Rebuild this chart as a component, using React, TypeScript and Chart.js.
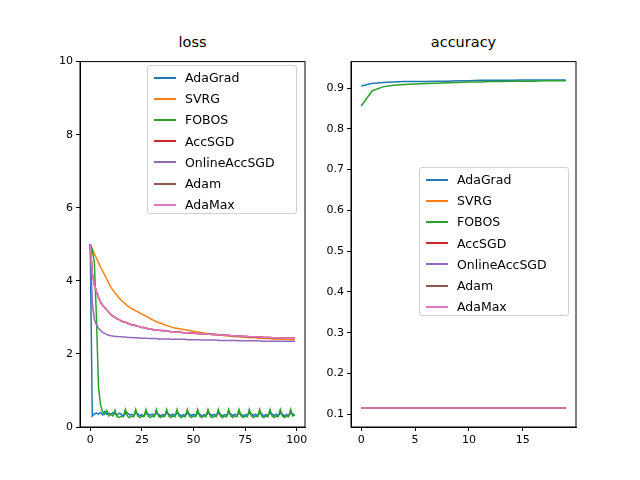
import { useEffect, useRef } from "react";
import { Chart, registerables } from "chart.js";

Chart.register(...registerables);

const names = ["AdaGrad", "SVRG", "FOBOS", "AccSGD", "OnlineAccSGD", "Adam", "AdaMax"];
const colors = ["#1f77b4", "#ff7f0e", "#2ca02c", "#d62728", "#9467bd", "#8c564b", "#e377c2"];

// loss, 100 epochs
const lossAdaGrad = [
  5.0, 0.3, 0.36, 0.38, 0.35, 0.4, 0.33, 0.42, 0.35, 0.38, 0.34, 0.4, 0.36, 0.32, 0.38, 0.35, 0.3, 0.36, 0.39, 0.33,
  0.35, 0.32, 0.38, 0.36, 0.31, 0.34, 0.3, 0.37, 0.36, 0.32, 0.35, 0.31, 0.38, 0.35, 0.3, 0.34, 0.32, 0.38, 0.36, 0.31,
  0.35, 0.31, 0.38, 0.35, 0.3, 0.34, 0.32, 0.38, 0.36, 0.31, 0.35, 0.31, 0.38, 0.35, 0.3, 0.34, 0.32, 0.38, 0.36, 0.31,
  0.35, 0.31, 0.38, 0.35, 0.3, 0.34, 0.32, 0.38, 0.36, 0.31, 0.35, 0.31, 0.38, 0.35, 0.3, 0.34, 0.32, 0.38, 0.36, 0.31,
  0.35, 0.31, 0.38, 0.35, 0.3, 0.34, 0.32, 0.38, 0.36, 0.31, 0.35, 0.31, 0.38, 0.35, 0.3, 0.34, 0.32, 0.38, 0.36, 0.31,
];
const lossSVRG = [
  5.0, 4.88, 4.75, 4.62, 4.5, 4.38, 4.27, 4.16, 4.05, 3.94, 3.82, 3.74, 3.67, 3.6, 3.53, 3.47, 3.42, 3.37, 3.32, 3.28,
  3.24, 3.21, 3.18, 3.15, 3.12, 3.09, 3.06, 3.03, 3.0, 2.97, 2.94, 2.91, 2.88, 2.86, 2.84, 2.82, 2.8, 2.78, 2.76, 2.74,
  2.72, 2.71, 2.7, 2.69, 2.68, 2.67, 2.66, 2.65, 2.64, 2.63, 2.62, 2.61, 2.6, 2.59, 2.58, 2.57, 2.56, 2.56, 2.55, 2.54,
  2.53, 2.53, 2.52, 2.52, 2.51, 2.5, 2.5, 2.49, 2.49, 2.48, 2.48, 2.47, 2.47, 2.46, 2.46, 2.46, 2.45, 2.45, 2.44, 2.44,
  2.44, 2.43, 2.43, 2.43, 2.42, 2.42, 2.42, 2.42, 2.41, 2.41, 2.41, 2.41, 2.41, 2.4, 2.4, 2.4, 2.4, 2.4, 2.39, 2.39,
];
const lossFOBOS = [
  5.0, 4.85, 4.5, 3.0, 1.1, 0.6, 0.42, 0.35, 0.45, 0.3, 0.35, 0.3, 0.46, 0.28, 0.26, 0.3, 0.28, 0.48, 0.3, 0.26,
  0.3, 0.28, 0.48, 0.3, 0.26, 0.3, 0.28, 0.48, 0.3, 0.26, 0.3, 0.28, 0.48, 0.3, 0.26, 0.3, 0.28, 0.48, 0.3, 0.26,
  0.3, 0.28, 0.48, 0.3, 0.26, 0.3, 0.28, 0.48, 0.3, 0.26, 0.3, 0.28, 0.48, 0.3, 0.26, 0.3, 0.28, 0.48, 0.3, 0.26,
  0.3, 0.28, 0.48, 0.3, 0.26, 0.3, 0.28, 0.48, 0.3, 0.26, 0.3, 0.28, 0.48, 0.3, 0.26, 0.3, 0.28, 0.48, 0.3, 0.26,
  0.3, 0.28, 0.48, 0.3, 0.26, 0.3, 0.28, 0.48, 0.3, 0.26, 0.3, 0.28, 0.48, 0.3, 0.26, 0.3, 0.28, 0.48, 0.3, 0.33,
];
const lossMiddle = [
  5.0, 4.2, 3.9, 3.7, 3.55, 3.42, 3.33, 3.27, 3.2, 3.14, 3.08, 3.03, 3.0, 2.96, 2.94, 2.9, 2.88, 2.87, 2.84, 2.82,
  2.8, 2.79, 2.77, 2.76, 2.74, 2.72, 2.72, 2.7, 2.69, 2.68, 2.67, 2.66, 2.66, 2.65, 2.64, 2.64, 2.63, 2.62, 2.62, 2.61,
  2.61, 2.6, 2.6, 2.59, 2.59, 2.58, 2.58, 2.58, 2.57, 2.57, 2.57, 2.56, 2.56, 2.55, 2.55, 2.55, 2.54, 2.54, 2.54, 2.53,
  2.53, 2.53, 2.52, 2.52, 2.52, 2.51, 2.51, 2.51, 2.5, 2.5, 2.5, 2.49, 2.49, 2.49, 2.48, 2.48, 2.48, 2.47, 2.47, 2.47,
  2.46, 2.46, 2.46, 2.46, 2.45, 2.45, 2.45, 2.45, 2.44, 2.44, 2.44, 2.44, 2.44, 2.43, 2.43, 2.43, 2.43, 2.43, 2.43, 2.43,
];
const lossOnlineAccSGD = [
  5.0, 3.4, 2.95, 2.8, 2.7, 2.64, 2.59, 2.56, 2.53, 2.51, 2.5, 2.49, 2.48, 2.48, 2.47, 2.47, 2.46, 2.46, 2.45, 2.45,
  2.45, 2.44, 2.44, 2.44, 2.43, 2.43, 2.43, 2.43, 2.42, 2.42, 2.42, 2.42, 2.42, 2.41, 2.41, 2.41, 2.41, 2.41, 2.41, 2.4,
  2.4, 2.4, 2.4, 2.4, 2.4, 2.4, 2.4, 2.39, 2.39, 2.39, 2.39, 2.39, 2.39, 2.39, 2.38, 2.38, 2.38, 2.38, 2.38, 2.38,
  2.38, 2.38, 2.37, 2.37, 2.37, 2.37, 2.37, 2.37, 2.37, 2.37, 2.37, 2.37, 2.36, 2.36, 2.36, 2.36, 2.36, 2.36, 2.36, 2.36,
  2.36, 2.36, 2.36, 2.35, 2.35, 2.35, 2.35, 2.35, 2.35, 2.35, 2.35, 2.35, 2.35, 2.35, 2.35, 2.35, 2.35, 2.35, 2.35, 2.35,
];

// accuracy, 20 epochs
const accAdaGrad = [0.905, 0.911, 0.914, 0.915, 0.916, 0.916, 0.916, 0.917, 0.917, 0.918, 0.918, 0.919, 0.919, 0.919, 0.919, 0.92, 0.92, 0.92, 0.92, 0.92];
const accFOBOS = [0.856, 0.893, 0.903, 0.907, 0.909, 0.91, 0.911, 0.912, 0.913, 0.914, 0.915, 0.915, 0.916, 0.916, 0.917, 0.917, 0.917, 0.918, 0.918, 0.918];
const accFlat = [0.115, 0.115, 0.115, 0.115, 0.115, 0.115, 0.115, 0.115, 0.115, 0.115, 0.115, 0.115, 0.115, 0.115, 0.115, 0.115, 0.115, 0.115, 0.115, 0.115];

const lossSeries = [lossAdaGrad, lossSVRG, lossFOBOS, lossMiddle, lossOnlineAccSGD, lossMiddle, lossMiddle];
const accSeries = [accAdaGrad, accFlat, accFOBOS, accFlat, accFlat, accFlat, accFlat];

const lossXTicks = [0, 25, 50, 75, 100];
const lossYTicks = [0, 2, 4, 6, 8, 10];
const accXTicks = [0, 5, 10, 15];
const accYTicks = [0.1, 0.2, 0.3, 0.4, 0.5, 0.6, 0.7, 0.8, 0.9];

const FONT = "'DejaVu Sans', sans-serif";

const framePlugin = {
  id: "frame",
  afterDraw(chart: any) {
    const { ctx, chartArea: a } = chart;
    ctx.save();
    ctx.strokeStyle = "#000";
    ctx.lineWidth = 1;
    ctx.strokeRect(a.left, a.top, a.right - a.left, a.bottom - a.top);
    ctx.restore();
  },
};

function Panel(props: {
  series: number[][];
  xMin: number; xMax: number; xTicks: number[];
  yMin: number; yMax: number; yTicks: number[]; yDigits: number;
  yWidth: number; left: number; title: string;
  legendLeft: number; legendTop: number;
}) {
  const ref = useRef<HTMLCanvasElement | null>(null);
  useEffect(() => {
    if (!ref.current) return;
    const axisCommon = {
      grid: { drawOnChartArea: false, tickLength: 4, color: "#000" },
      border: { color: "#000" },
      ticks: { color: "#000", font: { family: FONT, size: 11 }, padding: 3, autoSkip: false },
    };
    const chart = new Chart(ref.current, {
      type: "line",
      data: {
        datasets: props.series.map((s, i) => ({
          label: names[i],
          data: s.map((v, j) => ({ x: j, y: v })),
          borderColor: colors[i],
          borderWidth: 1.5,
          pointRadius: 0,
          fill: false,
          order: names.length - i,
        })),
      },
      options: {
        animation: false,
        responsive: false,
        layout: { padding: { top: 5, right: 14, bottom: 8, left: 0 } },
        plugins: { legend: { display: false }, tooltip: { enabled: false } },
        scales: {
          x: {
            type: "linear", min: props.xMin, max: props.xMax,
            ...axisCommon,
            afterBuildTicks: (s: any) => { s.ticks = props.xTicks.map((v) => ({ value: v })); },
            ticks: { ...axisCommon.ticks, callback: (v: any) => String(v) },
            afterFit: (s: any) => { s.height = 25; },
          },
          y: {
            min: props.yMin, max: props.yMax,
            ...axisCommon,
            afterBuildTicks: (s: any) => { s.ticks = props.yTicks.map((v) => ({ value: v })); },
            ticks: { ...axisCommon.ticks, callback: (v: any) => Number(v).toFixed(props.yDigits) },
            afterFit: (s: any) => { s.width = props.yWidth; },
          },
        },
      } as any,
      plugins: [framePlugin],
    });
    return () => chart.destroy();
  }, []);
  return (
    <>
      <div style={{ position: "absolute", left: props.left + props.yWidth, width: 225, top: 34, textAlign: "center", fontSize: 14.5, fontFamily: FONT }}>
        {props.title}
      </div>
      <canvas ref={ref} width={props.yWidth + 225 + 14} height={408} style={{ position: "absolute", left: props.left, top: 52 }} />
      <div style={{
        position: "absolute", left: props.legendLeft, top: props.legendTop, width: 150, height: 149,
        boxSizing: "border-box", border: "1px solid #d0d0d0", borderRadius: 3, background: "rgba(255,255,255,0.8)",
        fontFamily: FONT, fontSize: 12.5, padding: "1px 0 0 6px",
      }}>
        {names.map((n, i) => (
          <div key={n} style={{ display: "flex", alignItems: "center", height: 21.2 }}>
            <span style={{ display: "inline-block", width: 22, height: 2, background: colors[i], marginRight: 9 }} />
            {n}
          </div>
        ))}
      </div>
    </>
  );
}

export default function App() {
  return (
    <div style={{ position: "fixed", left: 0, top: 0, width: 640, height: 480, background: "#fff" }}>
      <Panel series={lossSeries} xMin={-4.95} xMax={103.95} xTicks={lossXTicks} yMin={0} yMax={10} yTicks={lossYTicks} yDigits={0}
        yWidth={40} left={40} title="loss" legendLeft={147} legendTop={65} />
      <Panel series={accSeries} xMin={-0.95} xMax={19.95} xTicks={accXTicks} yMin={0.0685} yMax={0.965} yTicks={accYTicks} yDigits={1}
        yWidth={41} left={310} title="accuracy" legendLeft={419} legendTop={167} />
    </div>
  );
}
